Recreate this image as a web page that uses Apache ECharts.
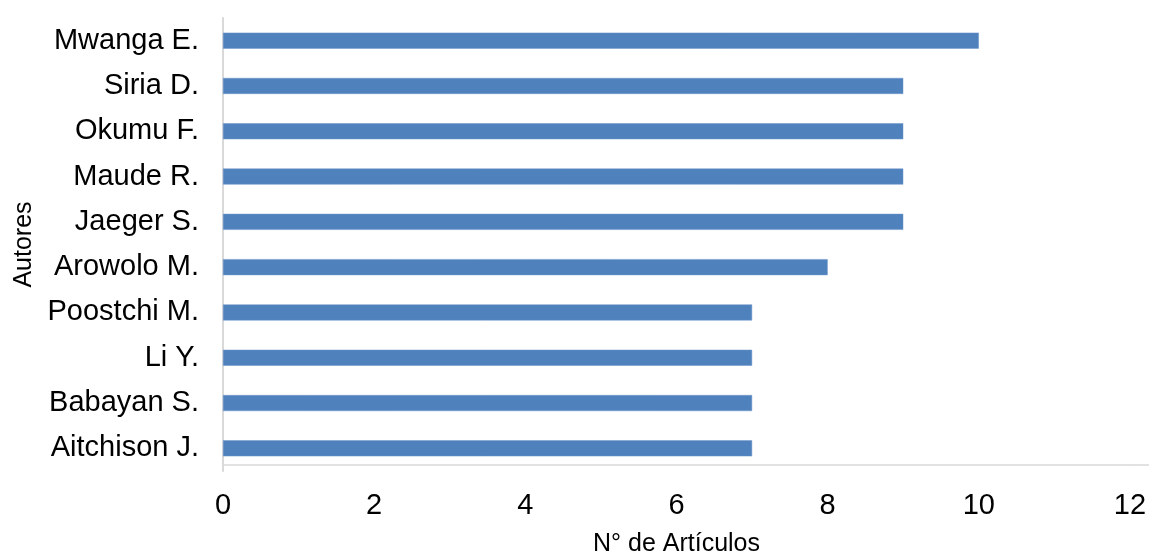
<!DOCTYPE html>
<html>
<head>
<meta charset="utf-8">
<script src="https://cdn.jsdelivr.net/npm/echarts@6/dist/echarts.min.js"></script>
<style>
html,body{margin:0;padding:0;background:#fff;}
#main{width:1149px;height:552px;}
</style>
</head>
<body>
<div id="main"></div>
<script>
// Data (bottom to top)
const authors = ['Aitchison J.', 'Babayan S.', 'Li Y.', 'Poostchi M.', 'Arowolo M.', 'Jaeger S.', 'Maude R.', 'Okumu F.', 'Siria D.', 'Mwanga E.'];
const articles = [7, 7, 7, 7, 8, 9, 9, 9, 9, 10];
const xTitle = 'N° de Artículos';
const yTitle = 'Autores';

const FONT = '"Liberation Sans", Arial, sans-serif';
const chart = echarts.init(document.getElementById('main'));
chart.setOption({
  animation: false,
  backgroundColor: '#ffffff',
  textStyle: { fontFamily: FONT },
  grid: { left: 223, right: 19, top: 18, bottom: 81, containLabel: false, outerBoundsMode: 'none' },
  xAxis: {
    type: 'value',
    min: 0, max: 12, interval: 2,
    offset: -6,
    axisLine: { show: true, lineStyle: { color: '#d9d9d9', width: 1.5 } },
    axisTick: { show: false },
    splitLine: { show: false },
    axisLabel: { color: '#000', fontSize: 29, fontFamily: FONT, margin: 26 },
    name: xTitle,
    nameLocation: 'middle',
    nameGap: 67,
    nameTextStyle: { color: '#000', fontSize: 25, fontFamily: FONT }
  },
  yAxis: {
    type: 'category',
    data: authors,
    axisLine: { show: true, lineStyle: { color: '#d9d9d9', width: 2 } },
    axisTick: { show: false },
    splitLine: { show: false },
    axisLabel: { color: '#000', fontSize: 29, fontFamily: FONT, margin: 24 },
    name: yTitle,
    nameLocation: 'middle',
    nameRotate: 90,
    nameGap: 185,
    nameTextStyle: { color: '#000', fontSize: 25, fontFamily: FONT }
  },
  series: [{
    type: 'bar',
    data: articles,
    barWidth: 16,
    itemStyle: { color: '#4F81BD', borderColor: '#6b95c9', borderWidth: 0.5 }
  }],
  graphic: [{
    type: 'line',
    shape: { x1: 1130, y1: 465, x2: 1149, y2: 465 },
    style: { stroke: '#d9d9d9', lineWidth: 1.5 }
  }]
});
</script>
</body>
</html>
